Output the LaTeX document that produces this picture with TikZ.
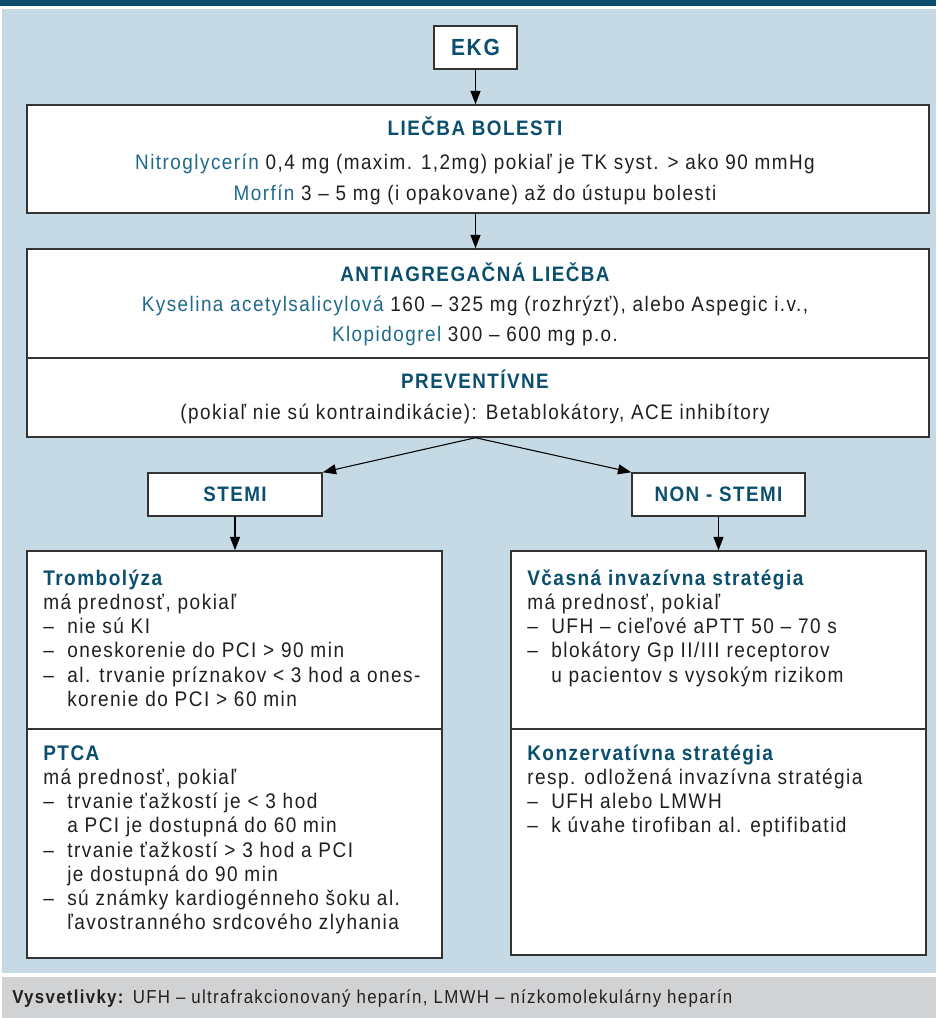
\documentclass[tikz,border=0pt]{standalone}
\usepackage{fontspec}
\setmainfont{Liberation Sans}[FakeStretch=0.9,LetterSpace=7]
\usetikzlibrary{arrows.meta}
\definecolor{barblue}{HTML}{0B4C6D}
\definecolor{bgblue}{HTML}{C6DAE5}
\definecolor{footgray}{HTML}{D1D2D4}
\definecolor{headcol}{HTML}{0A4F6E}
\definecolor{drugcol}{HTML}{1F6A8A}
\definecolor{txtcol}{HTML}{231F20}
\definecolor{boxline}{HTML}{333333}
\newcommand\dsh{\makebox[18pt][l]{–}}
\newcommand\ind{\hspace*{18pt}}
\begin{document}
\begin{tikzpicture}[x=0.75pt,y=-0.75pt,
  box/.style={draw=boxline, line width=1.1pt, fill=white, inner sep=0pt},
  arr/.style={draw=black, line width=0.8pt, -{Triangle[length=10pt,width=7.5pt]}},
  hd/.style={font=\bfseries\fontsize{15.7}{18}\selectfont, text=headcol, inner sep=0pt},
  bd/.style={font=\fontsize{15.75}{18}\selectfont, text=txtcol, inner sep=0pt},
  lb/.style={font=\fontsize{15.85}{18.2}\selectfont, text=txtcol, inner sep=0pt, anchor=base west},
]
\useasboundingbox (0,0) rectangle (936,1018);
\fill[barblue] (0,0) rectangle (936,6);
\fill[bgblue] (2,9) rectangle (936,973);
\fill[footgray] (2,977) rectangle (936,1018);

% boxes
\node[box, hd, font=\bfseries\fontsize{17.5}{18}\selectfont, minimum width=62.25pt, minimum height=32.25pt] (ekg) at (475.5,47.5) {EKG};
\node[box, minimum width=676.5pt, minimum height=81pt] (pain) at (478,159) {};
\node[box, minimum width=676.5pt, minimum height=141pt] (anti) at (478,343) {};
\coordinate (div1) at (478,358);
\draw[draw=boxline, line width=1.1pt] (anti.west |- div1) -- (anti.east |- div1);
\node[box, hd, minimum width=130.5pt, minimum height=32.25pt] (stemi) at (235,494.5) {STEMI};
\node[box, hd, minimum width=129.75pt, minimum height=32.25pt] (nstemi) at (718.5,494.5) {NON - STEMI};
\node[box, minimum width=311.25pt, minimum height=305.25pt] (lbox) at (234.5,754.5) {};
\node[box, minimum width=311.25pt, minimum height=303pt] (rbox) at (718.5,753) {};
\coordinate (div2) at (478,729);
\draw[draw=boxline, line width=1.1pt] (lbox.west |- div2) -- (lbox.east |- div2);
\draw[draw=boxline, line width=1.1pt] (rbox.west |- div2) -- (rbox.east |- div2);

% connectors
\draw[arr] (ekg.south) -- (ekg.south |- pain.north);
\draw[arr] (ekg.south |- pain.south) -- (ekg.south |- anti.north);
\coordinate (split) at (ekg.south |- anti.south);
\draw[arr] (split) -- (stemi.north east);
\draw[arr] (split) -- (nstemi.north west);
\draw[arr] (stemi.south) -- (stemi.south |- lbox.north);
\draw[arr] (nstemi.south) -- (nstemi.south |- rbox.north);

% pain texts
\node[hd, anchor=base] (painT) at (475,135) {LIEČBA BOLESTI};
\node[bd, anchor=base] (pain1) at (475,169) {\textcolor{drugcol}{Nitroglycerín} 0,4 mg (maxim. 1,2mg) pokiaľ je TK syst. > ako 90 mmHg};
\node[bd, anchor=base] (pain2) at (475,200) {\textcolor{drugcol}{Morfín} 3 – 5 mg (i opakovane) až do ústupu bolesti};

% antiagregation texts
\node[hd, anchor=base] (antiT) at (475,281) {ANTIAGREGAČNÁ LIEČBA};
\node[bd, anchor=base] (anti1) at (475,311) {\textcolor{drugcol}{Kyselina acetylsalicylová} 160 – 325 mg (rozhrýzť), alebo Aspegic i.v.,};
\node[bd, anchor=base] (anti2) at (475,341) {\textcolor{drugcol}{Klopidogrel} 300 – 600 mg p.o.};
\node[hd, anchor=base] (prevT) at (475,388) {PREVENTÍVNE};
\node[bd, anchor=base] (prev1) at (475,419) {(pokiaľ nie sú kontraindikácie): Betablokátory, ACE inhibítory};

% lower left
\node[lb] (tromb) at (43,585) {\begin{tabular}[t]{@{}l@{}}
\textcolor{headcol}{\bfseries Trombolýza}\\
má prednosť, pokiaľ\\
\dsh nie sú KI\\
\dsh oneskorenie do PCI > 90 min\\
\dsh al. trvanie príznakov < 3 hod a ones-\\
\ind korenie do PCI > 60 min
\end{tabular}};
\node[lb] (ptca) at (43,760) {\begin{tabular}[t]{@{}l@{}}
\textcolor{headcol}{\bfseries PTCA}\\
má prednosť, pokiaľ\\
\dsh trvanie ťažkostí je < 3 hod\\
\ind a PCI je dostupná do 60 min\\
\dsh trvanie ťažkostí > 3 hod a PCI\\
\ind je dostupná do 90 min\\
\dsh sú známky kardiogénneho šoku al.\\
\ind ľavostranného srdcového zlyhania
\end{tabular}};

% lower right
\node[lb] (invaz) at (527,585) {\begin{tabular}[t]{@{}l@{}}
\textcolor{headcol}{\bfseries Včasná invazívna stratégia}\\
má prednosť, pokiaľ\\
\dsh UFH – cieľové aPTT 50 – 70 s\\
\dsh blokátory Gp II/III receptorov\\
\ind u pacientov s vysokým rizikom
\end{tabular}};
\node[lb] (konz) at (527,760) {\begin{tabular}[t]{@{}l@{}}
\textcolor{headcol}{\bfseries Konzervatívna stratégia}\\
resp. odložená invazívna stratégia\\
\dsh UFH alebo LMWH\\
\dsh k úvahe tirofiban al. eptifibatid
\end{tabular}};

% footer
\node[font=\fontsize{14.05}{16}\selectfont, text=txtcol, inner sep=0pt, anchor=base west] (foot) at (12,1003) {\textbf{Vysvetlivky:} UFH – ultrafrakcionovaný heparín, LMWH – nízkomolekulárny heparín};
\end{tikzpicture}
\end{document}
